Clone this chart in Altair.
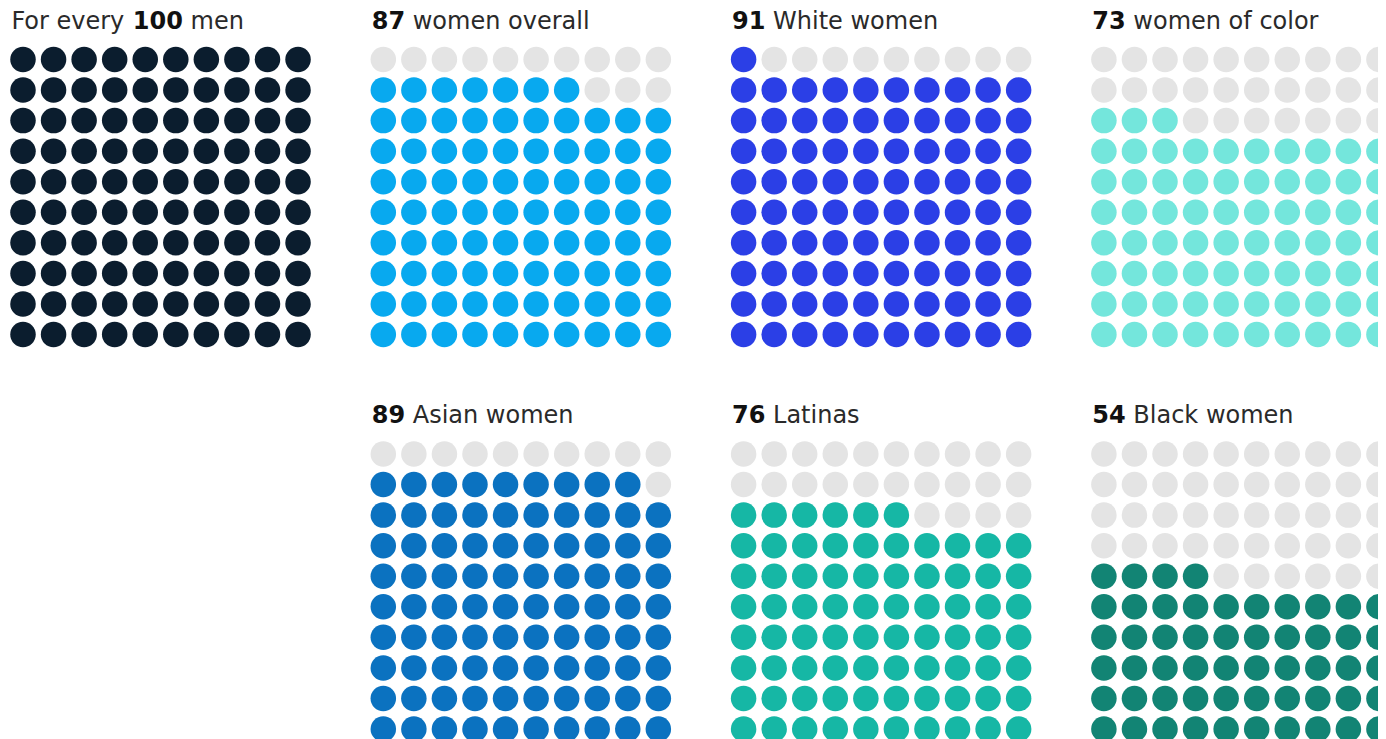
import altair as alt
import pandas as pd

# ---- data ----
labels = ["men", "women overall", "White women", "women of color",
          "Asian women", "Latinas", "Black women"]
values = [100, 87, 91, 73, 89, 76, 54]
prefixes = ["For every", "", "", "", "", "", ""]
panel_col = [0, 1, 2, 3, 1, 2, 3]
panel_row = [0, 0, 0, 0, 1, 1, 1]
colors = ["#0b1d2e", "#08a9ef", "#2b3fe6", "#74e6dc",
          "#0b72c0", "#16b7a5", "#128474"]
EMPTY = "#e4e4e4"

# ---- layout (styles) ----
STEP = 30.56
PANEL_DX = 360.3 / STEP
PANEL_DY = 394.5 / STEP
W, H = 1370, 731
FS = 24
FONT = "DejaVu Sans"
x0_px, y0_px = 15.0, 51.5
x_dom = [-x0_px / STEP, (W - x0_px) / STEP]
y_dom = [-y0_px / STEP, (H - y0_px) / STEP]

# DejaVu Sans advance widths (em)
REG = {" ": 0.318, "F": 0.575, "o": 0.612, "r": 0.411, "e": 0.615,
       "v": 0.592, "y": 0.592}
BOLD_DIGIT = 0.696


def wreg(s):
    return sum(REG.get(c, 0.6) for c in s) * FS / STEP


def wbold(s):
    return len(s) * BOLD_DIGIT * FS / STEP


dots = []
for k, (v, pc, pr, col) in enumerate(zip(values, panel_col, panel_row, colors)):
    for i in range(100):
        dots.append({
            "panel": k,
            "x": pc * PANEL_DX + i % 10,
            "y": pr * PANEL_DY + 9 - i // 10,
            "fill": col if i < v else EMPTY,
        })
dots = pd.DataFrame(dots)

texts = []
for k, (v, lab, pre, pc, pr) in enumerate(
        zip(values, labels, prefixes, panel_col, panel_row)):
    x = pc * PANEL_DX - 0.38
    y = pr * PANEL_DY - 1.0
    if pre:
        texts.append({"t": pre, "x": x, "y": y, "w": "normal"})
        x += wreg(pre + " ")
    texts.append({"t": str(v), "x": x, "y": y, "w": "bold"})
    x += wbold(str(v)) + wreg(" ")
    texts.append({"t": lab, "x": x, "y": y, "w": "normal"})
texts = pd.DataFrame(texts)

xs = alt.Scale(domain=x_dom, nice=False, zero=False)
ys = alt.Scale(domain=y_dom, nice=False, zero=False, reverse=True)

circles = alt.Chart(dots).mark_circle(size=650, opacity=1, clip=True).encode(
    x=alt.X("x:Q", scale=xs, axis=None),
    y=alt.Y("y:Q", scale=ys, axis=None),
    color=alt.Color("fill:N", scale=None),
)

bold = alt.Chart(texts).transform_filter(alt.datum.w == "bold").mark_text(
    align="left", baseline="alphabetic", font=FONT, fontSize=FS,
    fontWeight="bold", color="#111111", clip=True
).encode(
    x=alt.X("x:Q", scale=xs, axis=None),
    y=alt.Y("y:Q", scale=ys, axis=None),
    text="t:N",
)

normal = alt.Chart(texts).transform_filter(alt.datum.w == "normal").mark_text(
    align="left", baseline="alphabetic", font=FONT, fontSize=FS,
    fontWeight="normal", color="#2a2a2a", clip=True
).encode(
    x=alt.X("x:Q", scale=xs, axis=None),
    y=alt.Y("y:Q", scale=ys, axis=None),
    text="t:N",
)

chart = alt.layer(circles, bold, normal).properties(
    width=W, height=H, padding=0,
    autosize=alt.AutoSizeParams(type="none"),
    background="white",
).configure_view(stroke=None)

chart.save("out.html", embed_options={"renderer": "svg", "actions": False})
